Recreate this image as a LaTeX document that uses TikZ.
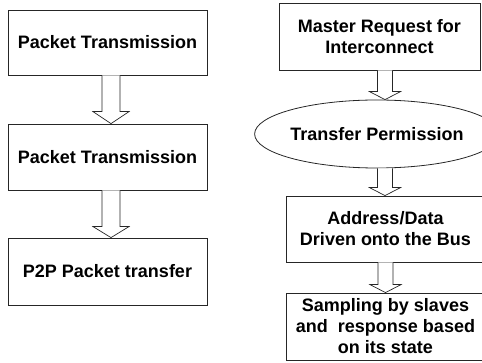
\documentclass[tikz,border=0pt]{standalone}
\usepackage{fontspec}
\setmainfont{Liberation Sans}
\usetikzlibrary{shapes.geometric,calc}
\tikzset{
  boxnode/.style={draw=black!85,line width=0.8pt,rectangle,inner sep=0pt,align=center,
    font=\fontsize{18pt}{21pt}\selectfont\bfseries},
  ellnode/.style={boxnode,ellipse},
  arr/.style={draw=black!85,line width=0.7pt,fill=white,line join=miter}
}
% from, to, xoffset, shaft half, head half, head length
\newcommand{\hollowarrow}[6]{%
  \path[arr] let \p1=(#1.south), \p2=(#2.north) in
    (\x1+#3-#4,\y1) -- (\x1+#3-#4,\y2+#6) -- (\x1+#3-#5,\y2+#6) -- (\x1+#3,\y2)
    -- (\x1+#3+#5,\y2+#6) -- (\x1+#3+#4,\y2+#6) -- (\x1+#3+#4,\y1);}
\begin{document}
\begin{tikzpicture}[x=1pt,y=-1pt]
\useasboundingbox (0,0) rectangle (482,363);
% left column
\node[boxnode,minimum width=199pt,minimum height=65pt] (l1) at (107.5,42.5) {Packet Transmission};
\node[boxnode,minimum width=199pt,minimum height=66pt] (l2) at (107.5,157) {Packet Transmission};
\node[boxnode,minimum width=199pt,minimum height=67pt] (l3) at (107.5,271.5) {P2P Packet transfer};
% right column
\node[boxnode,minimum width=201pt,minimum height=67pt] (r1) at (379.5,36.5) {Master Request for\\Interconnect};
\node[ellnode,minimum width=208pt,minimum height=68pt] (r2) at (377,134) {Transfer Permission};
\node[boxnode,minimum width=199pt,minimum height=66pt] (r3) at (385.5,229) {Address/Data\\Driven onto the Bus};
\node[boxnode,minimum width=199pt,minimum height=67pt] (r4) at (385.5,326.5) {Sampling by slaves\\and\ \ response based\\on its state};
% arrows
\hollowarrow{l1}{l2}{3.5pt}{9pt}{18pt}{12pt}
\hollowarrow{l2}{l3}{3.5pt}{9pt}{18pt}{11pt}
\hollowarrow{r1}{r2}{5.5pt}{7.5pt}{15.5pt}{8pt}
\hollowarrow{r2}{r3}{8pt}{7.5pt}{15.5pt}{8pt}
\hollowarrow{r3}{r4}{0pt}{7.5pt}{15.5pt}{8pt}
\end{tikzpicture}
\end{document}
